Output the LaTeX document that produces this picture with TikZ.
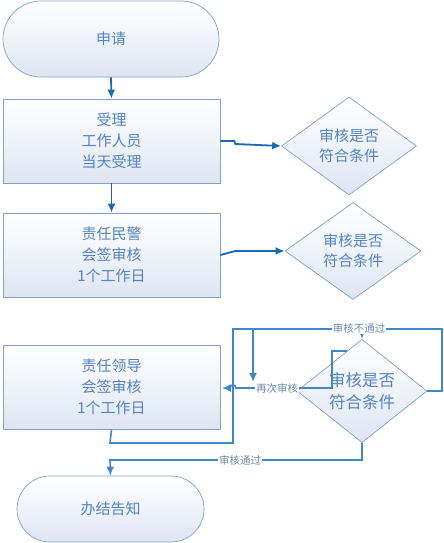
\documentclass[tikz,border=0pt]{standalone}
\usepackage{fontspec}
\setmainfont{Noto Sans CJK SC}
\usetikzlibrary{shapes.geometric,arrows.meta,calc}
\definecolor{txtc}{RGB}{84,132,190}
\definecolor{bordc}{RGB}{130,160,200}
\definecolor{fillb}{RGB}{222,230,243}
\definecolor{conn}{RGB}{25,105,180}
\definecolor{connl}{RGB}{65,135,200}
\definecolor{lblc}{RGB}{110,140,175}
\tikzset{
  shp/.style={draw=bordc, line width=0.7pt, top color=white, bottom color=fillb, text=txtc, align=center, inner sep=0pt},
  term/.style={shp, rounded corners=33pt, font=\fontsize{15}{21}\selectfont},
  procbox/.style={shp, minimum width=217pt, minimum height=84pt, font=\fontsize{15}{21}\selectfont},
  decis/.style={shp, diamond, font=\fontsize{15}{20}\selectfont},
  cn/.style={draw=conn, line width=1.8pt, -{Latex[length=9pt,width=8pt]}},
  cnl/.style={draw=connl, line width=1.6pt},
  lbl/.style={fill=white, text=lblc, inner sep=1pt, font=\fontsize{10.5}{12}\selectfont}
}
\begin{document}
\begin{tikzpicture}[x=1pt,y=-1pt]
\useasboundingbox (0,0) rectangle (444,543);
% nodes
\node[term, minimum width=216pt, minimum height=76pt, rounded corners=38pt] (t1) at (111,39) {申请};
\node[procbox] (b1) at (111.5,141) {受理\\工作人员\\当天受理};
\node[procbox] (b2) at (111.5,255) {责任民警\\会签审核\\1个工作日};
\node[procbox] (b3) at (111.5,387) {责任领导\\会签审核\\1个工作日};
\node[term, minimum width=187pt, minimum height=66pt] (t2) at (110.5,509) {办结告知};
\node[decis, minimum width=135pt, minimum height=98pt] (d1) at (349,146) {审核是否\\符合条件};
\node[decis, minimum width=136pt, minimum height=97pt] (d2) at (353,251) {审核是否\\符合条件};
\node[decis, minimum width=130pt, minimum height=96pt, font=\fontsize{16.5}{22}\selectfont] (d3) at (362,391) {审核是否\\符合条件};
% helper coordinates
\coordinate (p1) at (110,443);
\coordinate (p2) at (233,443);
\coordinate (p3) at (233,329);
\coordinate (p4) at (362,329);
\coordinate (q1) at (442,391);
\coordinate (q2) at (442,329);
\coordinate (q3) at (253,329);
\coordinate (q4) at (253,382);
\coordinate (r1) at (347,351);
\coordinate (r2) at (332,351);
\coordinate (r3) at (332,388);
\coordinate (r4) at (222,388);
\coordinate (s1) at (362,460);
\coordinate (s2) at (110,460);
% top connectors
\draw[cn] (t1.south) -- (b1.north);
\draw[cn] (b1.south) -- (b2.north);
\draw[cn] (b1.east) -- ++(14,0) -- ++(1,3) -- (d1.west);
\draw[cn] (b2.east) -- ++(15,-4) -- (d2.west);
% lower connectors
\draw[cnl] (b3.south) -- (p1) -- (p2) -- (p3) -- (p4);
\draw[cnl, -{Latex[length=8pt,width=7pt]}] (p4) -- (d3.north);
\draw[cnl, -{Latex[length=9pt,width=8pt]}] (d3.east) -- (q1) -- (q2) -- (q3) -- (q4);
\draw[cnl, -{Latex[length=9pt,width=8pt]}] (r1) -- (r2) -- (r3) -- (236,388) arc[start angle=0, end angle=180, radius=3pt] -- (r4);
\draw[cnl, -{Latex[length=9pt,width=8pt]}] (d3.south) -- (s1) -- (s2) -- (t2.north);
% labels
\node[lbl] (l1) at (359,328) {审核不通过};
\node[lbl] (l2) at (277,388) {再次审核};
\node[lbl] (l3) at (240,460) {审核通过};
\end{tikzpicture}
\end{document}
